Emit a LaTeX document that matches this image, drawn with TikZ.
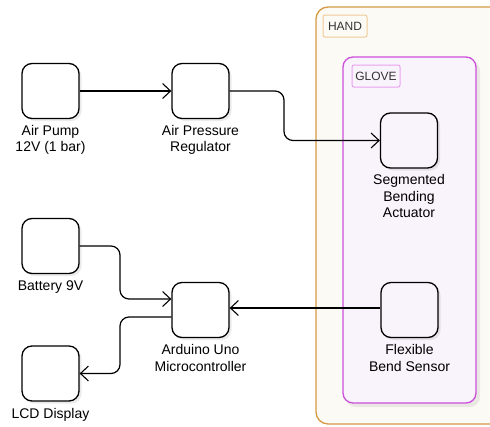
\documentclass[tikz,border=0pt]{standalone}
\usepackage{fontspec}
\setmainfont{Liberation Sans}
\usetikzlibrary{arrows.meta}
\definecolor{handfill}{HTML}{FCFAF5}
\definecolor{handline}{HTML}{D69A45}
\definecolor{handtag}{HTML}{F0CB98}
\definecolor{glovefill}{HTML}{F9F3FC}
\definecolor{gloveline}{HTML}{CC4FDB}
\definecolor{glovetag}{HTML}{E9A3F0}
\definecolor{txt}{HTML}{333333}
\tikzset{
  unit/.style={draw=black, line width=1.3pt, rounded corners=10pt, minimum width=57pt, minimum height=55pt, inner sep=0pt},
  whitebox/.style={unit, fill=white},
  lilacbox/.style={unit, fill=glovefill},
  caption/.style={align=center, font=\fontsize{14pt}{16.5pt}\selectfont, text=black, anchor=north, inner sep=0pt},
  tag/.style={rounded corners=2pt, line width=1pt, font=\fontsize{12pt}{13pt}\selectfont, text=txt, inner sep=0pt, minimum height=22pt},
  link/.style={line width=1.2pt, rounded corners=9pt, -{Straight Barb[length=8pt,width=15pt,line width=1.1pt]}},
  boxshadow/.style={fill=black, opacity=0.08, rounded corners=10pt},
}
\begin{document}
\begin{tikzpicture}[x=1pt,y=-1pt]
\useasboundingbox (0,0) rectangle (490,426);
\clip (0,0) rectangle (490,426);

% HAND container
\draw[handline, fill=handfill, line width=1.3pt, rounded corners=12pt] (316,7) rectangle (505,424);
\node[tag, draw=handtag, fill=handfill, minimum width=44pt] (handtag) at (345,26) {HAND};

% GLOVE container with soft shadow
\fill[black, opacity=0.07, rounded corners=10pt] (346,61) rectangle (480,407);
\draw[gloveline, fill=glovefill, line width=1.3pt, rounded corners=10pt] (343,57) rectangle (476,403);
\node[tag, draw=glovetag, fill=glovefill, minimum width=48pt] (glovetag) at (376,76) {GLOVE};

% shadows under the component boxes
\foreach \cx/\cy in {50.5/91, 200.5/91, 409/140.5, 50.5/246, 200.5/310, 50.5/373.5, 409.5/310}
  \fill[boxshadow] (\cx-26,\cy-25) rectangle (\cx+31,\cy+30);

% components
\node[whitebox] (pump) at (50.5,91) {};
\node[whitebox] (reg) at (200.5,91) {};
\node[lilacbox] (act) at (409,140.5) {};
\node[whitebox] (bat) at (50.5,246) {};
\node[whitebox] (ard) at (200.5,310) {};
\node[whitebox] (lcd) at (50.5,373.5) {};
\node[lilacbox] (flex) at (409.5,310) {};

% captions below each box
\node[caption] at ([yshift=-6pt]pump.south) {Air Pump\\12V (1 bar)};
\node[caption] at ([yshift=-6pt]reg.south) {Air Pressure\\Regulator};
\node[caption] at ([yshift=-6pt]act.south) {Segmented\\Bending\\Actuator};
\node[caption] at ([yshift=-6pt]bat.south) {Battery 9V};
\node[caption] at ([yshift=-6pt]ard.south) {Arduino Uno\\Microcontroller};
\node[caption] at ([yshift=-6pt]lcd.south) {LCD Display};
\node[caption] at ([yshift=-6pt]flex.south) {Flexible\\Bend Sensor};

% connectors
\coordinate (r1) at (284,0);
\coordinate (b1) at (120,0);
\draw[link] (pump.east) -- (reg.west);
\draw[link] (reg.east) -- (r1 |- reg.east) -- (r1 |- act.west) -- (act.west);
\draw[link] (bat.east) -- (b1 |- bat.east) -- ([yshift=11pt]b1 |- ard.west) -- ([yshift=11pt]ard.west);
\draw[link] ([yshift=-7pt]ard.west) -- ([yshift=-7pt]b1 |- ard.west) -- (b1 |- lcd.east) -- (lcd.east);
\draw[link] ([yshift=2pt]flex.west) -- ([yshift=2pt]ard.east);
\end{tikzpicture}
\end{document}
